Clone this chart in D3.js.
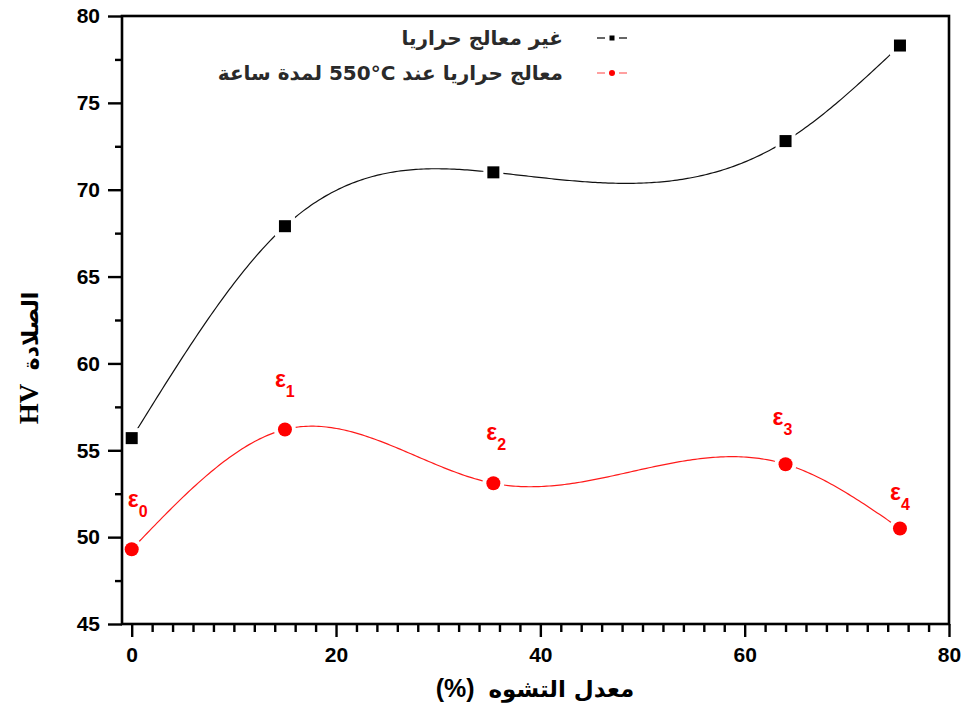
<!DOCTYPE html>
<html>
<head>
<meta charset="utf-8">
<script src="https://cdn.jsdelivr.net/npm/d3@7"></script>
<style>
  html, body { margin: 0; padding: 0; background: #fff; }
  svg { display: block; }
</style>
</head>
<body>
<svg id="chart" width="961" height="708"></svg>
<script>
// Deformation ratio (%) for each specimen
const strain = [0, 15, 35.4, 64, 75.2];
// Vickers hardness, untreated specimens
const hvUntreated = [55.7, 67.9, 71.0, 72.8, 78.3];
// Vickers hardness, heat-treated at 550°C for one hour
const hvTreated = [49.3, 56.2, 53.1, 54.2, 50.5];
// Strain-level subscripts shown above the treated points
const strainLevels = ["0", "1", "2", "3", "4"];
// Axis ticks
const xMajorTicks = [0, 20, 40, 60, 80];
const yMajorTicks = [45, 50, 55, 60, 65, 70, 75, 80];
// Legend entries (the temperature is isolated so it keeps left-to-right order)
const legendLabels = ["غير معالج حراريا", "معالج حراريا عند \u2066550°C\u2069 لمدة ساعة"];

// Label placement around each treated point (pixels)
const labelOffsets = [[-4, -42], [-10, -42], [-7, -43], [-13, -39], [-10, -28]];

const svg = d3.select("#chart");
const W = 961, H = 708;
const plot = { left: 122, right: 949, top: 16, bottom: 624 };

const x = d3.scaleLinear().domain([-0.95, 80]).range([plot.left, plot.right]);
const y = d3.scaleLinear().domain([45, 80]).range([plot.bottom, plot.top]);

svg.append("rect").attr("width", W).attr("height", H).attr("fill", "#fff");

// Natural cubic spline y(x) through the measured points
function naturalSpline(xs, ys) {
  const n = xs.length;
  const h = [], alpha = [0];
  for (let i = 0; i < n - 1; i++) h.push(xs[i + 1] - xs[i]);
  for (let i = 1; i < n - 1; i++)
    alpha.push(3 / h[i] * (ys[i + 1] - ys[i]) - 3 / h[i - 1] * (ys[i] - ys[i - 1]));
  const l = [1], mu = [0], z = [0];
  for (let i = 1; i < n - 1; i++) {
    l[i] = 2 * (xs[i + 1] - xs[i - 1]) - h[i - 1] * mu[i - 1];
    mu[i] = h[i] / l[i];
    z[i] = (alpha[i] - h[i - 1] * z[i - 1]) / l[i];
  }
  const c = new Array(n).fill(0), b = [], d = [];
  for (let j = n - 2; j >= 0; j--) {
    c[j] = (j === 0 ? 0 : z[j] - mu[j] * c[j + 1]);
    b[j] = (ys[j + 1] - ys[j]) / h[j] - h[j] * (c[j + 1] + 2 * c[j]) / 3;
    d[j] = (c[j + 1] - c[j]) / (3 * h[j]);
  }
  return function (t) {
    let j = 0;
    while (j < n - 2 && t > xs[j + 1]) j++;
    const dx = t - xs[j];
    return ys[j] + b[j] * dx + c[j] * dx * dx + d[j] * dx * dx * dx;
  };
}

function curvePoints(xs, ys) {
  const f = naturalSpline(xs, ys);
  const x0 = xs[0], x1 = xs[xs.length - 1];
  return d3.range(0, 301).map(k => {
    const t = x0 + (x1 - x0) * k / 300;
    return [t, f(t)];
  });
}

const line = d3.line().x(d => x(d[0])).y(d => y(d[1]));

// Smooth connecting curves
svg.append("path")
  .attr("d", line(curvePoints(strain, hvUntreated)))
  .attr("fill", "none").attr("stroke", "#111").attr("stroke-width", 1.2);
svg.append("path")
  .attr("d", line(curvePoints(strain, hvTreated)))
  .attr("fill", "none").attr("stroke", "#ff1a1a").attr("stroke-width", 1.2);

// Markers (white halo leaves a small gap where the curve meets each marker)
const sq = 12;
svg.append("g").selectAll("rect")
  .data(strain.map((s, i) => [s, hvUntreated[i]]))
  .join("rect")
  .attr("x", d => x(d[0]) - sq / 2).attr("y", d => y(d[1]) - sq / 2)
  .attr("width", sq).attr("height", sq)
  .attr("fill", "#000").attr("stroke", "#fff").attr("stroke-width", 8)
  .attr("paint-order", "stroke");
svg.append("g").selectAll("circle")
  .data(strain.map((s, i) => [s, hvTreated[i]]))
  .join("circle")
  .attr("cx", d => x(d[0])).attr("cy", d => y(d[1])).attr("r", 7)
  .attr("fill", "#ff0000").attr("stroke", "#fff").attr("stroke-width", 8)
  .attr("paint-order", "stroke");

// ε_i labels above the treated points
const lbl = svg.append("g").attr("fill", "#ff0000")
  .attr("font-family", "'Liberation Sans', Arial, sans-serif").attr("font-weight", "bold");
strain.forEach((s, i) => {
  const t = lbl.append("text")
    .attr("x", x(s) + labelOffsets[i][0])
    .attr("y", y(hvTreated[i]) + labelOffsets[i][1]);
  t.append("tspan").attr("font-size", 23).text("ε");
  t.append("tspan").attr("font-size", 16).attr("dy", 10).text(strainLevels[i]);
});

// Frame
svg.append("rect")
  .attr("x", plot.left).attr("y", plot.top)
  .attr("width", plot.right - plot.left).attr("height", plot.bottom - plot.top)
  .attr("fill", "none").attr("stroke", "#000").attr("stroke-width", 2.6);

// Axes
const tickFont = "'Liberation Sans', Arial, sans-serif";
const xAxis = d3.axisBottom(x).tickValues(xMajorTicks).tickSize(13).tickPadding(10).tickFormat(d3.format("d"));
const xMinor = d3.axisBottom(x).tickValues(d3.range(2, 80, 2).filter(v => v % 20 !== 0)).tickSize(8).tickFormat("");
const yAxis = d3.axisLeft(y).tickValues(yMajorTicks).tickSize(14).tickPadding(8).tickFormat(d3.format("d"));
const yMinor = d3.axisLeft(y).tickValues(d3.range(47.5, 80, 5)).tickSize(7).tickFormat("");

function styleAxis(g) {
  g.select(".domain").remove();
  g.selectAll(".tick line").attr("stroke", "#000").attr("stroke-width", 2.4);
  g.selectAll(".tick text").attr("fill", "#000")
    .attr("font-family", tickFont).attr("font-weight", "bold").attr("font-size", 21);
}
svg.append("g").attr("transform", `translate(0,${plot.bottom})`).call(xMinor).call(styleAxis);
svg.append("g").attr("transform", `translate(0,${plot.bottom})`).call(xAxis).call(styleAxis);
svg.append("g").attr("transform", `translate(${plot.left},0)`).call(yMinor).call(styleAxis);
svg.append("g").attr("transform", `translate(${plot.left},0)`).call(yAxis).call(styleAxis);

// Axis titles
const xt = svg.append("text")
  .attr("x", 535).attr("y", 697)
  .attr("text-anchor", "middle")
  .attr("direction", "ltr")
  .attr("font-weight", "bold");
xt.append("tspan").attr("font-family", "'Liberation Sans', sans-serif")
  .attr("font-size", 25).text("(%)\u00a0\u00a0");
xt.append("tspan").attr("font-family", "'DejaVu Sans', sans-serif")
  .attr("font-size", 23).text("معدل التشوه");

const yt = svg.append("text")
  .attr("transform", "translate(38,358) rotate(-90)")
  .attr("text-anchor", "middle")
  .attr("direction", "ltr")
  .attr("font-weight", "bold");
yt.append("tspan").attr("font-family", "'Liberation Serif', 'Times New Roman', serif")
  .attr("font-size", 27).text("HV\u00a0\u00a0");
yt.append("tspan").attr("font-family", "'DejaVu Sans', sans-serif")
  .attr("font-size", 22).text("الصلادة");

// Legend
const legend = svg.append("g");
const legendRows = [
  { y: 38, color: "#000", dash: "#333" },
  { y: 73, color: "#ff0000", dash: "#ff8080" }
];
legendRows.forEach((r, i) => {
  legend.append("line").attr("x1", 597).attr("x2", 605).attr("y1", r.y).attr("y2", r.y)
    .attr("stroke", r.dash).attr("stroke-width", 1.5);
  legend.append("line").attr("x1", 619).attr("x2", 627).attr("y1", r.y).attr("y2", r.y)
    .attr("stroke", r.dash).attr("stroke-width", 1.5);
  if (i === 0) {
    legend.append("rect").attr("x", 609.5).attr("y", r.y - 2.5).attr("width", 5).attr("height", 5)
      .attr("fill", r.color);
  } else {
    legend.append("circle").attr("cx", 612).attr("cy", r.y).attr("r", 3).attr("fill", r.color);
  }
  legend.append("text")
    .attr("x", 563).attr("y", r.y + 7)
    .attr("direction", "rtl")
    .attr("text-anchor", "start")
    .attr("font-family", "'DejaVu Sans', sans-serif")
    .attr("font-weight", "bold")
    .attr("font-size", 20)
    .attr("fill", "#2a2a2a")
    .text(legendLabels[i]);
});
</script>
</body>
</html>
